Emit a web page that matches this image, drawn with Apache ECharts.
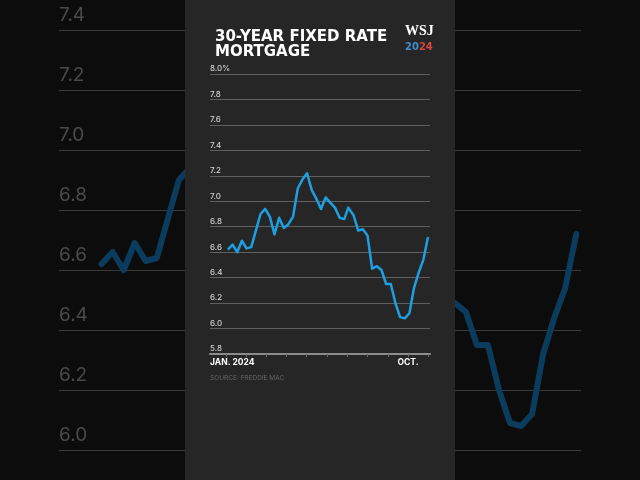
<!DOCTYPE html>
<html>
<head>
<meta charset="utf-8">
<script src="https://cdn.jsdelivr.net/npm/echarts@6/dist/echarts.min.js"></script>
<style>
  html, body { margin: 0; padding: 0; background: #0c0c0c; }
  #chart { width: 640px; height: 480px; }
</style>
</head>
<body>
<div id="chart"></div>
<script>
// Freddie Mac weekly 30-year fixed rate, 2024
const weeks = ['2024-01-04','2024-01-11','2024-01-18','2024-01-25','2024-02-01','2024-02-08','2024-02-15','2024-02-22','2024-02-29',
  '2024-03-07','2024-03-14','2024-03-21','2024-03-28','2024-04-04','2024-04-11','2024-04-18','2024-04-25','2024-05-02',
  '2024-05-09','2024-05-16','2024-05-23','2024-05-30','2024-06-06','2024-06-13','2024-06-20','2024-06-27','2024-07-03',
  '2024-07-11','2024-07-18','2024-07-25','2024-08-01','2024-08-08','2024-08-15','2024-08-22','2024-08-29','2024-09-05',
  '2024-09-12','2024-09-19','2024-09-26','2024-10-03','2024-10-10','2024-10-17','2024-10-24','2024-10-31'];
const rates = [6.62, 6.66, 6.60, 6.69, 6.63, 6.64, 6.77, 6.90, 6.94,
  6.88, 6.74, 6.87, 6.79, 6.82, 6.88, 7.10, 7.17, 7.22,
  7.09, 7.02, 6.94, 7.03, 6.99, 6.95, 6.87, 6.86, 6.95,
  6.89, 6.77, 6.78, 6.73, 6.47, 6.49, 6.46, 6.35, 6.35,
  6.20, 6.09, 6.08, 6.12, 6.32, 6.44, 6.54, 6.72];
const monthTicks = ['2024-01-01','2024-02-01','2024-03-01','2024-04-01','2024-05-01','2024-06-01',
  '2024-07-01','2024-08-01','2024-09-01','2024-10-01','2024-11-01'];
const xLabelDates = ['2023-12-08', '2024-10-01'];
const xLabelText = ['JAN. 2024', 'OCT.'];
const xMin = '2023-12-08', xMax = '2024-11-03';

const ts = d => +new Date(d + 'T00:00:00Z');
const points = weeks.map((d, i) => [ts(d), rates[i]]);

const chart = echarts.init(document.getElementById('chart'));
const font = 'Inter, "Noto Sans", sans-serif';
const headFont = '"DejaVu Sans", sans-serif';

chart.setOption({
  backgroundColor: '#0c0c0c',
  animation: false,
  title: [
    {
      text: '30-YEAR FIXED RATE\nMORTGAGE',
      left: 210, top: 25, z: 10,
      textStyle: { color: '#fff', fontFamily: headFont, fontSize: 15, fontWeight: 'bold', lineHeight: 15 }
    },
    {
      text: 'WSJ\n{b|20}{r|24}',
      left: 400, top: 18, z: 10,
      textStyle: {
        color: '#fff', fontFamily: '"Liberation Serif", serif', fontSize: 14, fontWeight: 'bold', lineHeight: 16,
        rich: {
          b: { color: '#3d8fd1', fontFamily: headFont, fontSize: 10, fontWeight: 'bold' },
          r: { color: '#d9443c', fontFamily: headFont, fontSize: 10, fontWeight: 'bold' }
        }
      }
    },
    {
      text: 'SOURCE: FREDDIE MAC',
      left: 205, top: 370, z: 10,
      textStyle: { color: '#666', fontFamily: font, fontSize: 6.5, fontWeight: 400 }
    }
  ],
  graphic: [
    { type: 'rect', z: 3, silent: true, shape: { x: 185, y: 0, width: 270, height: 480 }, style: { fill: '#262626' } }
  ],
  grid: [
    { left: 59, right: 59, top: 30, bottom: 30 },
    { left: 210, right: 210, top: 74, bottom: 126 }
  ],
  xAxis: [
    {
      gridIndex: 0, type: 'value', min: ts(xMin), max: ts(xMax), z: 0,
      axisLine: { show: false }, axisTick: { show: false }, axisLabel: { show: false }, splitLine: { show: false }
    },
    {
      gridIndex: 1, type: 'value', min: ts(xMin), max: ts(xMax), z: 4,
      axisLine: { show: true, lineStyle: { color: '#8c8c8c', width: 2 } },
      axisTick: { show: true, length: 3, lineStyle: { color: '#6a6a6a', width: 1 }, customValues: monthTicks.map(ts) },
      axisLabel: {
        customValues: xLabelDates.map(ts), alignMinLabel: 'left', margin: 4,
        color: '#fff', fontFamily: font, fontSize: 8.5, fontWeight: 700,
        formatter: v => xLabelText[xLabelDates.map(ts).indexOf(v)]
      },
      splitLine: { show: false }
    }
  ],
  yAxis: [
    {
      gridIndex: 0, type: 'value', min: 6.0, max: 7.4, interval: 0.2, z: 0,
      axisLine: { show: false }, axisTick: { show: false },
      axisLabel: {
        inside: true, margin: 0, verticalAlign: 'bottom', padding: [0, 0, 5, 0],
        color: '#4a4a4a', fontFamily: font, fontSize: 19, formatter: v => v.toFixed(1)
      },
      splitLine: { lineStyle: { color: '#3a3a3a', width: 1 } }
    },
    {
      gridIndex: 1, type: 'value', min: 5.8, max: 8.0, interval: 0.2, z: 4,
      axisLine: { show: false }, axisTick: { show: false },
      axisLabel: {
        inside: true, margin: 0, verticalAlign: 'bottom', padding: [0, 0, 1, 0],
        color: '#d0d0d0', fontFamily: font, fontSize: 8, fontWeight: 500,
        formatter: v => Math.abs(v - 8) < 1e-6 ? '8.0%' : v.toFixed(1)
      },
      splitLine: { lineStyle: { color: '#606060', width: 1 } }
    }
  ],
  series: [
    {
      type: 'line', xAxisIndex: 0, yAxisIndex: 0, z: 1, data: points,
      showSymbol: false, lineStyle: { color: '#0b3c5d', width: 6, cap: 'round', join: 'round' }
    },
    {
      type: 'line', xAxisIndex: 1, yAxisIndex: 1, z: 5, data: points,
      showSymbol: false, lineStyle: { color: '#1d9fe2', width: 2.5, join: 'round' }
    }
  ]
});
</script>
</body>
</html>
